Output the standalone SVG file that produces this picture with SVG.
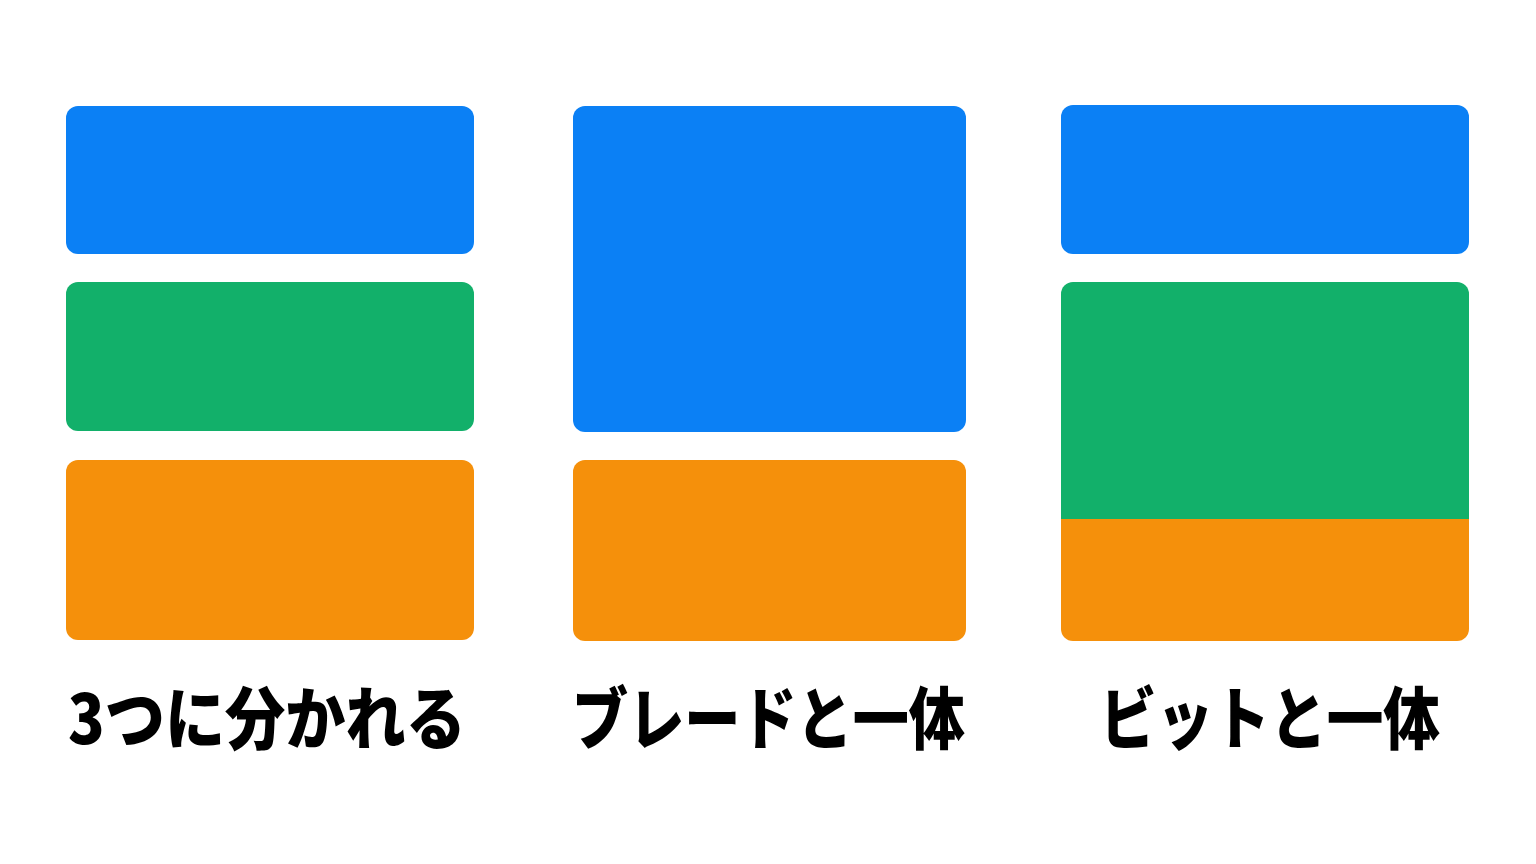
<svg xmlns="http://www.w3.org/2000/svg" width="1536" height="864" viewBox="0 0 1536 864">
<style>
.b{fill:#0B80F5}.g{fill:#12B06A}.o{fill:#F5900B}
.t{font-family:"Noto Sans CJK JP","Noto Sans",sans-serif;font-weight:900;font-size:68px;fill:#000}
</style>
<rect width="1536" height="864" fill="#fff"/>
<g id="col1">
<rect class="b" x="66" y="106" width="408" height="148" rx="12"/>
<rect class="g" x="66" y="282" width="408" height="149" rx="12"/>
<rect class="o" x="66" y="460" width="408" height="180" rx="12"/>
<text class="t" x="68" y="744" textLength="398" lengthAdjust="spacingAndGlyphs">3つに分かれる</text>
</g>
<g id="col2">
<rect class="b" x="573" y="106" width="393" height="326" rx="12"/>
<rect class="o" x="573" y="460" width="393" height="181" rx="12"/>
<text class="t" x="572" y="744" textLength="393" lengthAdjust="spacingAndGlyphs">ブレードと一体</text>
</g>
<g id="col3">
<rect class="b" x="1061" y="105" width="408" height="149" rx="12"/>
<path class="g" d="M1061 519V294a12 12 0 0 1 12-12h384a12 12 0 0 1 12 12v225z"/>
<path class="o" d="M1061 519h408v110a12 12 0 0 1-12 12h-384a12 12 0 0 1-12-12z"/>
<text class="t" x="1100" y="744" textLength="340" lengthAdjust="spacingAndGlyphs">ビットと一体</text>
</g>
</svg>
